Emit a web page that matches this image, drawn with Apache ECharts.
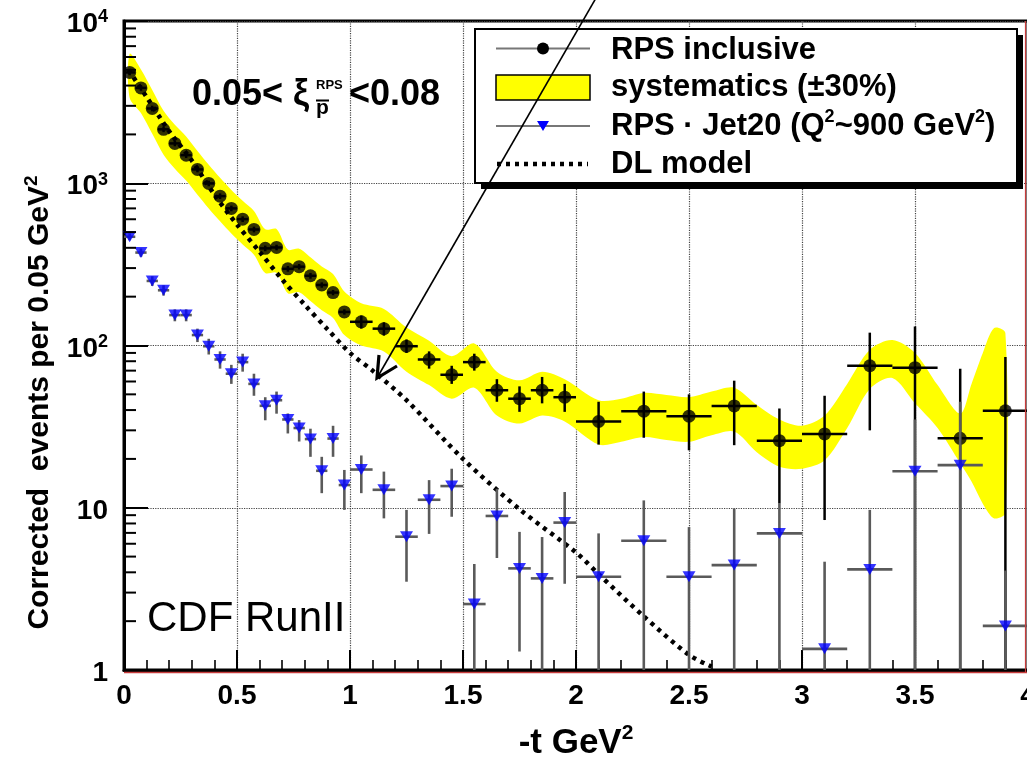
<!DOCTYPE html>
<html>
<head>
<meta charset="utf-8">
<script src="https://cdn.jsdelivr.net/npm/echarts@6/dist/echarts.min.js"></script>
<style>
html,body{margin:0;padding:0;background:#fff;}
#chart{width:1027px;height:760px;}
</style>
</head>
<body>
<div id="chart"></div>
<script>
// ---------------- data ----------------
// RPS inclusive (black circles)
const incX = [0.025,0.075,0.125,0.175,0.225,0.275,0.325,0.375,0.425,0.475,0.525,0.575,0.625,0.675,0.725,0.775,0.825,0.875,0.925,0.975,
              1.05,1.15,1.25,1.35,1.45,1.55,1.65,1.75,1.85,1.95,
              2.1,2.3,2.5,2.7,2.9,3.1,3.3,3.5,3.7,3.9];
const incY = [4820,3870,2890,2150,1760,1490,1217,998,833,700,601,519,397,402,297,306,269,236,212,161,
              140,127,99,82,66,79,53,47,53,48,
              34,39.4,36.7,42.4,25.9,28.5,75,73,26.8,39.6];
const incLo = [4630,3715,2775,2065,1690,1430,1168,958,800,672,577,498,381,386,285,294,258,227,204,155,
               127,115,90,72,58,70,45,39,44,39,
               24.5,27,22.6,24.3,10.6,8.4,30,1,1,1];
const incHi = [5010,4025,3005,2235,1830,1550,1266,1038,866,728,625,540,413,418,309,318,280,245,220,167,
               153,139,109,92,75,89,62,56,64,58,
               45,52,50,60.7,40.9,49,120,131,72,85];
const incHalfW = [0.025,0.025,0.025,0.025,0.025,0.025,0.025,0.025,0.025,0.025,0.025,0.025,0.025,0.025,0.025,0.025,0.025,0.025,0.025,0.025,
                  0.05,0.05,0.05,0.05,0.05,0.05,0.05,0.05,0.05,0.05,
                  0.1,0.1,0.1,0.1,0.1,0.1,0.1,0.1,0.1,0.1];

// RPS · Jet20 (blue triangles)
const jetX = incX;
const jetY = [468,374,250,219,154,154,116,99,82,67,79,58,42.5,46,35,31,26.5,16.9,26.7,13.8,
              17.2,12.9,6.63,11.2,13.6,2.55,8.9,4.23,3.67,8.1,
              3.76,6.26,3.76,4.43,6.95,1.35,4.17,16.8,18.3,1.87];
const jetLo = [445,352,233,203,141,141,105,88,72,58,69,49,34.6,38,28.7,25.6,20.6,12.3,20.6,9.7,
               12.3,8.6,3.5,6.9,8.8,1,4.9,1.3,1,3.4,
               1,1,1,1,1,1,1,1,1,1];
const jetHi = [491,396,267,235,167,167,127,110,92,76,89,67,48,52,38.1,34.7,30.7,20.6,32,17.1,
               21,16.7,9.7,14.8,17.4,4.5,13.1,7.1,6.6,12.5,
               6.95,11.1,7.6,9.9,10.6,4.65,9.7,35,45,4.1];
const jetHalfW = incHalfW;

// systematics band (±30%)
const bandX  = [0.025,0.075,0.125,0.175,0.225,0.275,0.325,0.375,0.425,0.475,0.525,0.575,0.625,0.675,0.725,0.775,0.825,0.875,0.925,0.975,
                1.05,1.15,1.25,1.35,1.45,1.55,1.65,1.75,1.85,1.95,
                2.1,2.2,2.3,2.4,2.5,2.6,2.7,2.8,2.9,3.0,3.1,3.2,3.3,3.4,3.5,3.6,3.7,3.75,3.8,3.85,3.9];
const bandHi = [6270,5030,3760,2800,2290,1940,1580,1300,1080,910,780,675,520,523,390,395,350,307,276,215,
                182,168,129,107,86,103,69,61,69,62,
                46,47,51,49.5,48,52,55,43,35,32,37,58,94,108,90,57,38,58,90,128,119];
const bandLo = [3370,2710,2020,1500,1230,1040,850,700,583,490,420,363,280,281,210,213,188,165,148,116,
                100,92,69,57,47,55,37,33,37,34,
                24.5,25.5,27.3,26.2,25.5,28,29.5,22,17.9,17.4,19.6,31,54,63,44,31,18.8,14.5,10.6,8.6,9.3];

// DL model (dotted)
const dlX = [0.02,0.1,0.2,0.3,0.4,0.5,0.6,0.7,0.8,0.9,1.0,1.1,1.25,1.5,1.75,2.0,2.1,2.3,2.5,2.6];
const dlY = [5000,3400,2090,1380,850,556,378,255,178,126,90,70,46,20,9.8,5.3,3.9,2.14,1.24,1.05];

// axes
const xTickLabels = ['0','0.5','1','1.5','2','2.5','3','3.5','4'];
const yTickValues = [1,10,100,1000,10000];
const yTickLabels = ['1','10','{b|10}{s|2}','{b|10}{s|3}','{b|10}{s|4}'];
const yMinorTicks = [2,3,4,5,6,7,8,9,20,30,40,50,60,70,80,90,200,300,400,500,600,700,800,900,2000,3000,4000,5000,6000,7000,8000,9000];

// ---------------- chart ----------------
const FONT = '"Liberation Sans", Arial, Helvetica, sans-serif';
const chart = echarts.init(document.getElementById('chart'), null, {renderer:'canvas', width:1027, height:760});

function errorBars(xs, ys, los, his, hws, color, width, z) {
  return {
    type:'custom', silent:true, clip:false, z:z,
    data: xs.map((x,i)=>[x, ys[i], los[i], his[i], hws[i]]),
    encode:{x:0, y:1},
    renderItem: function(params, api){
      const x = api.value(0), y = api.value(1), lo = api.value(2), hi = api.value(3), hw = api.value(4);
      const pLo = api.coord([x, lo]), pHi = api.coord([x, hi]);
      const pL = api.coord([x-hw, y]), pR = api.coord([x+hw, y]);
      return {type:'group', children:[
        {type:'line', shape:{x1:pLo[0], y1:pLo[1], x2:pHi[0], y2:pHi[1]}, style:{stroke:color, lineWidth:width}},
        {type:'line', shape:{x1:pL[0], y1:pL[1], x2:pR[0], y2:pR[1]}, style:{stroke:color, lineWidth:width}}
      ]};
    }
  };
}

const supRich = {
  b:{fontSize:28, fontWeight:'bold', fontFamily:FONT, color:'#000', lineHeight:32},
  s:{fontSize:18, fontWeight:'bold', fontFamily:FONT, color:'#000', lineHeight:17, verticalAlign:'top'}
};

const option = {
  animation:false,
  backgroundColor:'#fff',
  grid:{left:124, top:21, width:904, height:649, show:true, borderColor:'#000', borderWidth:3,
        containLabel:false, outerBoundsMode:'none'},
  xAxis:{
    type:'value', min:0, max:4, interval:0.5,
    axisLine:{show:true, lineStyle:{color:'#000', width:3}},
    axisTick:{show:true, inside:true, length:20, lineStyle:{color:'#000', width:2}},
    minorTick:{show:true, splitNumber:5, length:10, lineStyle:{color:'#000', width:1.6}},
    axisLabel:{fontSize:28, fontWeight:'bold', fontFamily:FONT, color:'#000', margin:12, hideOverlap:false,
      formatter:function(v){ return xTickLabels[Math.round(v/0.5)]; }},
    splitLine:{show:true, lineStyle:{color:'#444', width:1.2, type:'dotted'}},
    name:'{a|-t GeV}{s|2}', nameLocation:'middle', nameGap:53,
    nameTextStyle:{rich:{
      a:{fontSize:35, fontWeight:'bold', fontFamily:FONT, color:'#000', lineHeight:40},
      s:{fontSize:21, fontWeight:'bold', fontFamily:FONT, color:'#000', lineHeight:20, verticalAlign:'top'}
    }}
  },
  yAxis:{
    type:'log', logBase:10, min:1, max:10000,
    axisLine:{show:true, lineStyle:{color:'#000', width:3}},
    axisTick:{show:true, inside:true, length:24, lineStyle:{color:'#000', width:2}},
    axisLabel:{fontSize:28, fontWeight:'bold', fontFamily:FONT, color:'#000', margin:16, padding:[7,0,0,0],
      rich:supRich,
      formatter:function(v){ const i = yTickValues.indexOf(Math.round(v)); return i>=0 ? yTickLabels[i] : ''; }},
    splitLine:{show:true, lineStyle:{color:'#444', width:1.2, type:'dotted'}},
    name:'{a|Corrected  events per 0.05 GeV}{s|2}', nameLocation:'middle', nameRotate:90, nameGap:66,
    nameTextStyle:{padding:[0,114,0,0], rich:{
      a:{fontSize:30, fontWeight:'bold', fontFamily:FONT, color:'#000', lineHeight:36},
      s:{fontSize:19, fontWeight:'bold', fontFamily:FONT, color:'#000', lineHeight:18, verticalAlign:'top'}
    }}
  },
  series:[
    // systematics band
    {
      type:'custom', silent:true, clip:true, z:1,
      data:[[bandX[0], bandHi[0]]],
      renderItem:function(params, api){
        const pts = [];
        for (let i=0;i<bandX.length;i++) pts.push(api.coord([bandX[i], bandHi[i]]));
        for (let i=bandX.length-1;i>=0;i--) pts.push(api.coord([bandX[i], bandLo[i]]));
        return {type:'polygon', shape:{points:pts, smooth:0.3}, style:{fill:'#ffff00'}};
      }
    },
    // DL model
    {
      type:'line', z:3, silent:true, showSymbol:false, symbol:'none', smooth:0.3,
      data: dlX.map((x,i)=>[x, dlY[i]]),
      lineStyle:{color:'#000', width:4.5, type:[4,5], cap:'butt'}
    },
    // inclusive error bars & points
    errorBars(incX, incY, incLo, incHi, incHalfW, '#000', 2.5, 4),
    {
      type:'scatter', z:5, silent:true, symbol:'circle', symbolSize:13,
      data: incX.map((x,i)=>[x, incY[i]]),
      itemStyle:{color:'#000'}
    },
    // jet20 error bars & points
    errorBars(jetX, jetY, jetLo, jetHi, jetHalfW, '#5a5a5a', 2.6, 6),
    {
      type:'scatter', z:7, silent:true, symbol:'triangle', symbolRotate:180, symbolSize:[13,11],
      data: jetX.map((x,i)=>[x, jetY[i]]),
      itemStyle:{color:'#0000ff'}
    },
    // log minor ticks on y axis
    {
      type:'custom', silent:true, clip:false, z:8,
      data: yMinorTicks.map(v=>[0, v]),
      renderItem:function(params, api){
        const p = api.coord([0, api.value(1)]);
        return {type:'line', shape:{x1:p[0], y1:p[1], x2:p[0]+12, y2:p[1]}, style:{stroke:'#000', lineWidth:2}};
      }
    }
  ],
  graphic:[
    // red frame remnants (right & bottom)
    {type:'line', z:50, shape:{x1:124, y1:672.5, x2:1027, y2:672.5}, style:{stroke:'#c83c3c', lineWidth:1.5}},
    {type:'line', z:50, shape:{x1:1025.5, y1:21, x2:1025.5, y2:672}, style:{stroke:'#c83c3c', lineWidth:1.2}},
    // selection text
    {type:'text', z:60, style:{x:192, y:95, text:'0.05< ξ', fill:'#000', fontSize:36, fontWeight:'bold', fontFamily:FONT, textAlign:'left', textVerticalAlign:'middle'}},
    {type:'text', z:60, style:{x:316, y:85, text:'RPS', fill:'#000', fontSize:13, fontWeight:'bold', fontFamily:FONT, textAlign:'left', textVerticalAlign:'middle'}},
    {type:'text', z:60, style:{x:316, y:108, text:'p', fill:'#000', fontSize:21, fontWeight:'bold', fontFamily:FONT, textAlign:'left', textVerticalAlign:'middle'}},
    {type:'line', z:60, shape:{x1:316, y1:100.5, x2:329, y2:100.5}, style:{stroke:'#000', lineWidth:2}},
    {type:'text', z:60, style:{x:349, y:95, text:'<0.08', fill:'#000', fontSize:36, fontWeight:'bold', fontFamily:FONT, textAlign:'left', textVerticalAlign:'middle'}},
    // CDF RunII
    {type:'text', z:60, style:{x:147, y:619, text:'CDF RunII', fill:'#000', fontSize:42, fontFamily:FONT, textAlign:'left', textVerticalAlign:'middle'}},
    // legend box
    {type:'rect', z:70, shape:{x:481, y:35, width:542, height:154}, style:{fill:'#000'}},
    {type:'rect', z:71, shape:{x:475, y:29, width:542, height:154}, style:{fill:'#fff', stroke:'#000', lineWidth:2}},
    // row 1
    {type:'line', z:72, shape:{x1:496, y1:48.5, x2:590, y2:48.5}, style:{stroke:'#777', lineWidth:2}},
    {type:'circle', z:73, shape:{cx:543, cy:48.5, r:6}, style:{fill:'#000'}},
    {type:'text', z:73, style:{x:611, y:50, text:'RPS inclusive', fill:'#000', fontSize:31, fontWeight:'bold', fontFamily:FONT, textAlign:'left', textVerticalAlign:'middle'}},
    // row 2
    {type:'rect', z:72, shape:{x:496, y:75, width:94, height:25}, style:{fill:'#ffff00', stroke:'#000', lineWidth:1.5}},
    {type:'text', z:73, style:{x:611, y:87, text:'systematics (±30%)', fill:'#000', fontSize:31, fontWeight:'bold', fontFamily:FONT, textAlign:'left', textVerticalAlign:'middle'}},
    // row 3
    {type:'line', z:72, shape:{x1:496, y1:126, x2:590, y2:126}, style:{stroke:'#777', lineWidth:2}},
    {type:'polygon', z:73, shape:{points:[[537,121],[549,121],[543,131]]}, style:{fill:'#0000ff'}},
    {type:'text', z:73, style:{x:611, y:126,
      text:'{a|RPS · Jet20 (Q}{s|2}{a|~900 GeV}{s|2}{a|)}', fill:'#000', textAlign:'left', textVerticalAlign:'middle',
      rich:{
        a:{fontSize:31, fontWeight:'bold', fontFamily:FONT, fill:'#000', lineHeight:36},
        s:{fontSize:18, fontWeight:'bold', fontFamily:FONT, fill:'#000', lineHeight:18, verticalAlign:'top'}
      }}},
    // row 4
    {type:'line', z:72, shape:{x1:497, y1:164, x2:588, y2:164}, style:{stroke:'#000', lineWidth:4.5, lineDash:[4,5]}},
    {type:'text', z:73, style:{x:611, y:164, text:'DL model', fill:'#000', fontSize:31, fontWeight:'bold', fontFamily:FONT, textAlign:'left', textVerticalAlign:'middle'}},
    // arrow
    {type:'line', z:90, shape:{x1:596, y1:-2, x2:377, y2:378}, style:{stroke:'#000', lineWidth:1.6}},
    {type:'polyline', z:90, shape:{points:[[397,366],[377,378],[379,355]]}, style:{stroke:'#000', lineWidth:3.2, fill:null}}
  ]
};
chart.setOption(option);
</script>
</body>
</html>
